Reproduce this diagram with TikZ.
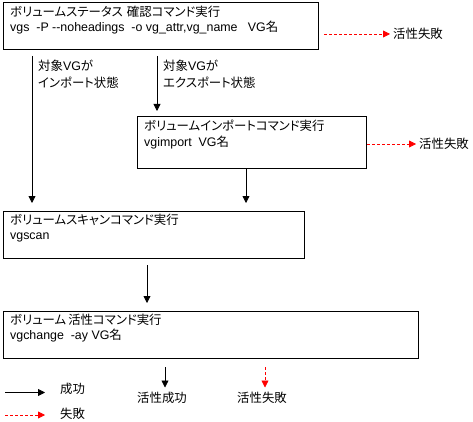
\documentclass[tikz,border=0pt]{standalone}
\usepackage{fontspec}
\setmainfont{Liberation Sans}
\newfontfamily\jp[RawFeature=+palt]{Noto Sans CJK JP}
\usetikzlibrary{arrows.meta}
\tikzset{
  box/.style={draw, line width=0.9pt, anchor=north west, inner sep=0pt},
  txt/.style={anchor=west, inner sep=0pt, font=\fontsize{12.4}{14}\selectfont},
  ctxt/.style={anchor=center, inner sep=0pt, font=\fontsize{12.4}{14}\selectfont},
  okarrow/.style={draw, line width=0.8pt, -{Triangle[length=7pt,width=7pt]}},
  ngarrow/.style={draw=red, line width=0.8pt, dash pattern=on 3pt off 2pt, -{Triangle[length=7pt,width=7pt,fill=red]}},
}
\begin{document}
\begin{tikzpicture}[x=1pt,y=-1pt]
\useasboundingbox (0,0) rectangle (473,422);
% boxes
\node[box, minimum width=315pt, minimum height=47pt] (b1) at (3,2) {};
\node[box, minimum width=229pt, minimum height=52pt] (b2) at (137,116) {};
\node[box, minimum width=301pt, minimum height=47pt] (b3) at (3,211) {};
\node[box, minimum width=415pt, minimum height=47pt] (b4) at (3,311) {};
% box texts
\node[txt] (b1a) at (10,12) {\jp ボリュームステータス\hspace{4pt}確認コマンド実行};
\node[txt] (b1b) at (10,28) {vgs\ \ -P -{}-noheadings\ \ -o vg\_attr,vg\_name\ \ \ VG{\jp 名}};
\node[txt] (b2a) at (144,126) {\jp ボリュームインポートコマンド実行};
\node[txt] (b2b) at (144,143) {vgimport\ \ VG{\jp 名}};
\node[txt] (b3a) at (10,220) {\jp ボリュームスキャンコマンド実行};
\node[txt] (b3b) at (10,237) {vgscan};
\node[txt] (b4a) at (10,320) {\jp ボリューム\hspace{2pt}活性コマンド実行};
\node[txt] (b4b) at (10,336) {vgchange\ \ -ay VG{\jp 名}};
% labels
\node[txt] (l1a) at (38,66) {{\jp 対象}VG{\jp が}};
\node[txt] (l1b) at (38,83) {\jp インポート状態};
\node[txt] (l2a) at (163,66) {{\jp 対象}VG{\jp が}};
\node[txt] (l2b) at (163,83) {\jp エクスポート状態};
\node[txt] (f1) at (393,34) {\jp 活性失敗};
\node[txt] (f2) at (419,144) {\jp 活性失敗};
\node[ctxt] (ok) at (162,398) {\jp 活性成功};
\node[ctxt] (ng) at (262,398) {\jp 活性失敗};
\node[txt] (lgok) at (60,389) {\jp 成功};
\node[txt] (lgng) at (60,414) {\jp 失敗};
% coordinates
\coordinate (a1s) at (32,56);
\coordinate (a1e) at (32,203);
\coordinate (a2s) at (157,56);
\coordinate (a2e) at (157,111);
\coordinate (a3s) at (246,168);
\coordinate (a3e) at (246,203);
\coordinate (a4s) at (147,265);
\coordinate (a4e) at (147,303);
\coordinate (r1s) at (324,34);
\coordinate (r2s) at (367,144);
\coordinate (okS) at (165,367);
\coordinate (ngS) at (265,367);
\coordinate (lg1s) at (5,392.5);
\coordinate (lg1e) at (45,392.5);
\coordinate (lg2s) at (5,415);
\coordinate (lg2e) at (45,415);
% arrows
\draw[okarrow] (a1s) -- (a1e);
\draw[okarrow] (a2s) -- (a2e);
\draw[okarrow] (a3s) -- (a3e);
\draw[okarrow] (a4s) -- (a4e);
\draw[ngarrow] (r1s) -- ([xshift=-3pt]f1.west);
\draw[ngarrow] (r2s) -- ([xshift=-3pt]f2.west);
\draw[okarrow] (okS) -- (165,387.5);
\draw[ngarrow] (ngS) -- (265,387.5);
\draw[okarrow] (lg1s) -- (lg1e);
\draw[ngarrow] (lg2s) -- (lg2e);
\end{tikzpicture}
\end{document}
